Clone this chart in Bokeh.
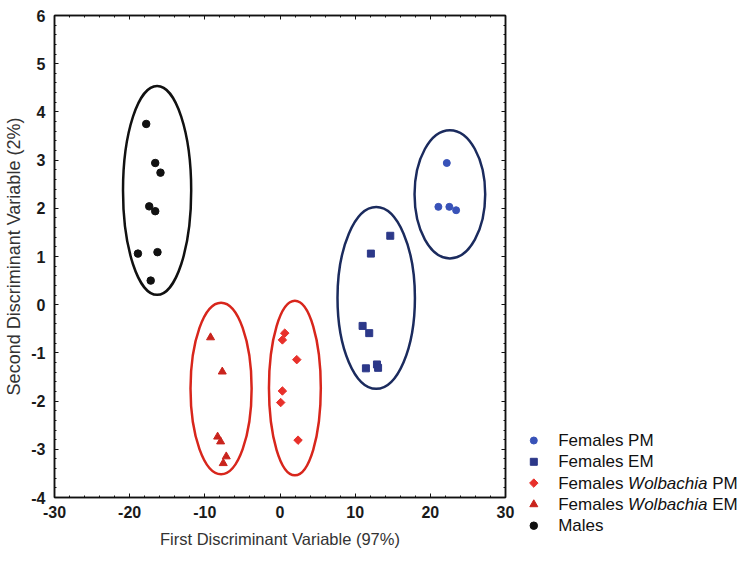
import numpy as np
from bokeh.plotting import figure
from bokeh.models import Range1d, LinearAxis, SingleIntervalTicker
from bokeh.layouts import row
from bokeh.core.properties import value
from bokeh.embed import file_html
from bokeh.resources import INLINE

# ---------------- data ----------------
males_x = [-17.8, -16.6, -15.9, -17.4, -16.6, -18.9, -16.3, -17.2]
males_y = [3.75, 2.94, 2.74, 2.04, 1.94, 1.06, 1.09, 0.50]

wol_em_x = [-9.24, -7.68, -8.3, -7.9, -7.15, -7.55]
wol_em_y = [-0.68, -1.39, -2.74, -2.84, -3.15, -3.29]

wol_pm_x = [0.63, 0.32, 2.23, 0.32, 0.09, 2.40]
wol_pm_y = [-0.59, -0.73, -1.14, -1.79, -2.03, -2.81]

fem_em_x = [14.67, 12.09, 10.99, 11.87, 11.43, 12.9, 13.05]
fem_em_y = [1.43, 1.06, -0.44, -0.59, -1.32, -1.24, -1.31]

fem_pm_x = [22.19, 21.07, 22.53, 23.43]
fem_pm_y = [2.94, 2.03, 2.03, 1.96]

# group ellipses: centre x, centre y, full width, full height
ell_group = ["Males", "Females Wolbachia EM", "Females Wolbachia PM", "Females EM", "Females PM"]
ell_cx = [-16.35, -7.84, 1.98, 12.8, 22.6]
ell_cy = [2.37, -1.74, -1.73, 0.14, 2.29]
ell_w = [9.07, 8.13, 6.9, 10.3, 9.4]
ell_h = [4.33, 3.56, 3.62, 3.77, 2.66]

x_ticks = [-30, -20, -10, 0, 10, 20, 30]
y_ticks = [-4, -3, -2, -1, 0, 1, 2, 3, 4, 5, 6]

legend_labels = ["Females PM", "Females EM", "Females Wolbachia PM", "Females Wolbachia EM", "Males"]

# ---------------- styles ----------------
FONT = "Liberation Sans"
C_PM = "#3852b8"
C_EM = "#2c3889"
C_WPM = "#e8302a"
C_WEM = "#c9231c"
C_MALE = "#111111"
ELL_COL = {"Males": "#111111", "Females Wolbachia EM": "#d8261c",
           "Females Wolbachia PM": "#d8261c", "Females EM": "#1b2b5e",
           "Females PM": "#1b2b5e"}

W_MAIN, H = 528, 563
p = figure(width=W_MAIN, height=H, output_backend="svg", toolbar_location=None,
           x_range=Range1d(x_ticks[0], x_ticks[-1]), y_range=Range1d(y_ticks[0], y_ticks[-1]),
           min_border_left=54, min_border_right=23, min_border_top=15, min_border_bottom=66,
           x_axis_label="First Discriminant Variable (97%)",
           y_axis_label="Second Discriminant Variable (2%)",
           frame_align=False)
p.grid.visible = False
p.outline_line_color = "#111111"
p.outline_line_width = 1.5
p.background_fill_color = "white"
p.border_fill_color = "white"

p.xaxis.ticker = SingleIntervalTicker(interval=10, num_minor_ticks=5)
p.yaxis.ticker = SingleIntervalTicker(interval=1, num_minor_ticks=5)
p.xaxis.major_label_overrides = {v: str(v) for v in x_ticks}
p.yaxis.major_label_overrides = {v: str(v) for v in y_ticks}

for ax in p.xaxis + p.yaxis:
    ax.axis_line_color = "#111111"
    ax.axis_line_width = 1.5
    ax.major_tick_in = 4
    ax.major_tick_out = 0
    ax.minor_tick_in = 2
    ax.minor_tick_out = 0
    ax.major_tick_line_color = "#111111"
    ax.minor_tick_line_color = "#111111"
    ax.major_label_text_font = FONT
    ax.major_label_text_font_size = "16px"
    ax.major_label_text_font_style = "bold"
    ax.major_label_text_color = "#1a1a1a"
    ax.axis_label_text_font = FONT
    ax.axis_label_text_font_style = "normal"
    ax.axis_label_text_color = "#333333"
p.xaxis.axis_label_text_font_size = "16.5px"
p.yaxis.axis_label_text_font_size = "18px"
p.xaxis.major_label_standoff = 8
p.xaxis.axis_label_standoff = 9
p.yaxis.major_label_standoff = 9
p.yaxis.axis_label_standoff = 4

# ticks on top and right, no labels
top_ax = LinearAxis(ticker=SingleIntervalTicker(interval=10, num_minor_ticks=5),
                    major_label_text_color=None)
right_ax = LinearAxis(ticker=SingleIntervalTicker(interval=1, num_minor_ticks=5),
                      major_label_text_color=None)
for ax in (top_ax, right_ax):
    ax.axis_line_color = "#111111"
    ax.axis_line_width = 1.5
    ax.major_tick_in = 4
    ax.major_tick_out = 0
    ax.minor_tick_in = 2
    ax.minor_tick_out = 0
    ax.major_tick_line_color = "#111111"
    ax.minor_tick_line_color = "#111111"
    ax.major_label_standoff = 0
p.add_layout(top_ax, "above")
p.add_layout(right_ax, "right")

# ellipses
p.ellipse(x=ell_cx, y=ell_cy, width=ell_w, height=ell_h, fill_color=None,
          line_color=[ELL_COL[g] for g in ell_group], line_width=2.5)

# points
p.scatter(fem_pm_x, fem_pm_y, marker="circle", size=7, color=C_PM)
p.scatter(fem_em_x, fem_em_y, marker="square", size=7, color=C_EM)
p.scatter(wol_pm_x, wol_pm_y, marker="square", angle=np.pi / 4, size=6, color=C_WPM)
p.scatter(wol_em_x, wol_em_y, marker="triangle", size=8, color=C_WEM)
p.scatter(males_x, males_y, marker="circle", size=7.5, color=C_MALE)

# ---------------- legend panel ----------------
LW = 743 - W_MAIN
lg = figure(width=LW, height=H, output_backend="svg", toolbar_location=None,
            x_range=Range1d(0, LW), y_range=Range1d(H, 0), min_border=0,
            outline_line_color=None, frame_align=False)
lg.axis.visible = False
lg.grid.visible = False

row_y = [440 + 21.3 * i for i in range(len(legend_labels))]
mk_x = 5.3
tx_x = 29.7
fs = 17
markers = [("circle", 7, C_PM, 0), ("square", 7, C_EM, 0),
           ("square", 6, C_WPM, np.pi / 4), ("triangle", 8, C_WEM, 0),
           ("circle", 7.5, C_MALE, 0)]
for (mk, sz, col, ang), yy in zip(markers, row_y):
    lg.scatter([mk_x], [yy], marker=mk, size=sz, color=col, angle=ang)

tstyle = dict(text_font=value(FONT), text_font_size=f"{fs}px", text_color="#111111",
              text_baseline="middle", text_align="left")
w_females = (3.834 + 0.278) * fs
w_wol = 4.668 * fs
w_space = 0.278 * fs
for lab, yy in zip(legend_labels, row_y):
    if "Wolbachia" in lab:
        pre, post = lab.split("Wolbachia")
        lg.text([tx_x], [yy], text=[pre.strip()], **tstyle)
        lg.text([tx_x + w_females], [yy], text=["Wolbachia"], text_font_style="italic", **tstyle)
        lg.text([tx_x + w_females + w_wol + w_space], [yy], text=[post.strip()], **tstyle)
    else:
        lg.text([tx_x], [yy], text=[lab], **tstyle)

layout = row(p, lg)
open("out.html", "w").write(file_html(layout, INLINE))
